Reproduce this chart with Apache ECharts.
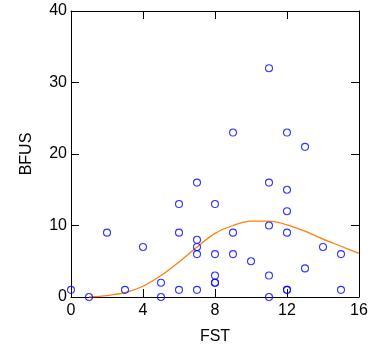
<!DOCTYPE html>
<html><head><meta charset="utf-8">
<script src="https://cdn.jsdelivr.net/npm/echarts@6/dist/echarts.min.js"></script>
<style>html,body{margin:0;padding:0;background:#fff}#c{width:384px;height:345px}</style>
</head><body><div id="c"></div>
<script>
const fstValues = [0,1,2,3,4,5,5,6,6,6,7,7,7,7,7,8,8,8,8,8,9,9,9,10,11,11,11,11,11,12,12,12,12,12,12,13,13,14,15,15];
const bfusValues = [1,0,9,1,7,2,0,13,9,1,16,8,7,6,1,13,6,3,2,2,23,9,6,5,32,16,10,3,0,23,15,12,9,1,1,21,4,7,6,1];
const curveX = [1,2,3,4,5,6,7,8,9,10,11,12,13,14,15,16];
const curveY = [0,0.2,0.6,1.5,3.0,4.9,7.0,8.9,10.0,10.6,10.6,10.1,9.2,8.1,7.1,6.1];
const xTicks = [0,4,8,12,16];
const yTicks = [0,10,20,30,40];

const chart = echarts.init(document.getElementById('c'), null, {renderer:'canvas'});
const font = 'Liberation Sans, Arial, sans-serif';
const axCommon = {
  axisLine:{show:true,onZero:false,lineStyle:{color:'#000',width:1}},
  axisTick:{show:true,inside:true,length:8,lineStyle:{color:'#000',width:1}},
  splitLine:{show:false}
};
chart.setOption({
  animation:false,
  grid:{left:71,right:25,top:11,bottom:48,containLabel:false,outerBoundsMode:'none'},
  xAxis:[
    Object.assign({type:'value',min:xTicks[0],max:xTicks[xTicks.length-1],interval:4,position:'bottom',
      name:'FST',nameLocation:'middle',nameGap:32,nameTextStyle:{fontFamily:font,fontSize:16,color:'#000'},
      axisLabel:{fontFamily:font,fontSize:16,color:'#000',margin:6}},axCommon),
    Object.assign({type:'value',min:0,max:16,interval:4,position:'top',axisLabel:{show:false}},axCommon)
  ],
  yAxis:[
    Object.assign({type:'value',min:yTicks[0],max:yTicks[yTicks.length-1],interval:10,position:'left',
      name:'BFUS',nameLocation:'middle',nameGap:36,nameTextStyle:{fontFamily:font,fontSize:16,color:'#000'},
      axisLabel:{fontFamily:font,fontSize:16,color:'#000',margin:4}},axCommon),
    Object.assign({type:'value',min:0,max:40,interval:10,position:'right',axisLabel:{show:false}},axCommon)
  ],
  series:[
    {type:'line',xAxisIndex:0,yAxisIndex:0,data:curveX.map((x,i)=>[x,curveY[i]]),smooth:0.3,showSymbol:false,
     lineStyle:{color:'#ff7f0e',width:1.3},z:2},
    {type:'scatter',xAxisIndex:0,yAxisIndex:0,data:fstValues.map((x,i)=>[x,bfusValues[i]]),symbol:'circle',symbolSize:7,
     itemStyle:{color:'rgba(0,0,0,0)',borderColor:'#0000ff',borderWidth:1.1},z:3}
  ]
});
</script></body></html>
